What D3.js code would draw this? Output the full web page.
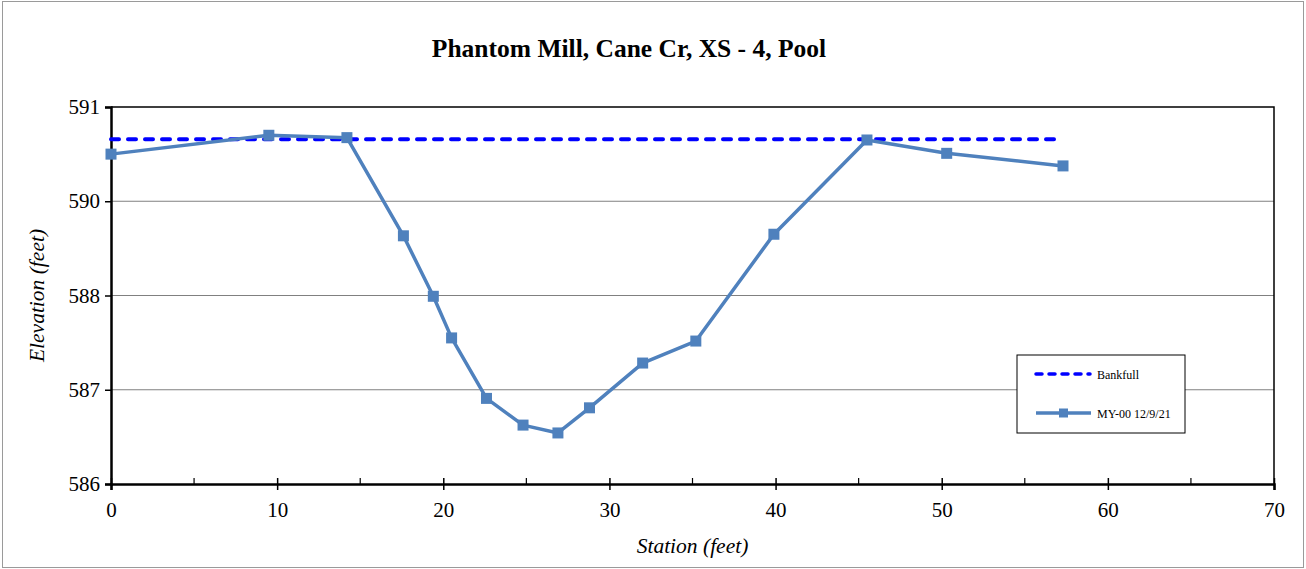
<!DOCTYPE html>
<html>
<head>
<meta charset="utf-8">
<script src="https://cdn.jsdelivr.net/npm/d3@7"></script>
<style>
  html, body { margin: 0; padding: 0; background: #fff; }
  svg { display: block; }
</style>
</head>
<body>
<svg id="chart" width="1306" height="569"></svg>
<script>
// Cross-section survey: station (ft) vs. elevation (ft)
const stations   = [0, 9.5, 14.2, 17.6, 19.4, 20.5, 22.6, 24.8, 26.9, 28.8, 32.0, 35.2, 39.9, 45.5, 50.3, 57.3];
const elevations = [590.20, 590.44, 590.41, 589.16, 588.39, 587.86, 587.09, 586.75, 586.65, 586.97, 587.54, 587.82, 589.18, 590.38, 590.21, 590.05];

// Bankfull elevation, drawn across the surveyed width
const bankfullStations  = [0, 57.1];
const bankfullElevation = 590.39;

// Axis ticks
const xTicks = [0, 10, 20, 30, 40, 50, 60, 70];
const xMinorTicks = [5, 15, 25, 35, 45, 55, 65];
const yTicks = [586, 587.2, 588.4, 589.6, 590.8];
const yTickLabels = ["586", "587", "588", "590", "591"];

const seriesNames = ["Bankfull", "MY-00 12/9/21"];
const titleText = "Phantom Mill, Cane Cr, XS - 4, Pool";

const svg = d3.select("#chart");
const W = 1306, H = 569;
const plot = { left: 111, right: 1274, top: 107, bottom: 484 };
const serif = "'Liberation Serif', 'Times New Roman', serif";

// Outer chart frame
svg.append("rect")
  .attr("x", 2.5).attr("y", 1.5).attr("width", W - 5).attr("height", H - 3)
  .attr("fill", "#fff").attr("stroke", "#9a9a9a").attr("stroke-width", 1);

const x = d3.scaleLinear().domain([0, 70]).range([plot.left, plot.right]);
const y = d3.scaleLinear().domain([586, 590.8]).range([plot.bottom, plot.top]);

// Horizontal gridlines
svg.append("g")
  .selectAll("line")
  .data(yTicks.slice(1, -1))
  .join("line")
  .attr("x1", plot.left).attr("x2", plot.right)
  .attr("y1", d => y(d)).attr("y2", d => y(d))
  .attr("stroke", "#808080").attr("stroke-width", 1.2);

// Plot frame: top and right edges
svg.append("path")
  .attr("d", `M${plot.left},${plot.top}H${plot.right}V${plot.bottom}`)
  .attr("fill", "none").attr("stroke", "#000").attr("stroke-width", 1.5);

// Y axis
const yAxis = d3.axisLeft(y)
  .tickValues(yTicks)
  .tickFormat((d, i) => yTickLabels[i])
  .tickSize(6).tickPadding(5);
const gy = svg.append("g").attr("transform", `translate(${plot.left},0)`).call(yAxis);
gy.select(".domain").attr("stroke", "#000").attr("stroke-width", 2.5);
gy.selectAll(".tick line").attr("stroke", "#000").attr("stroke-width", 1.5);
gy.selectAll(".tick text").attr("font-family", serif).attr("font-size", 21).attr("fill", "#000");

// X axis (major ticks cross the axis line, minor ticks point inward)
const xAxis = d3.axisBottom(x)
  .tickValues(xTicks)
  .tickFormat(d3.format("d"))
  .tickSize(6).tickPadding(12);
const gx = svg.append("g").attr("transform", `translate(0,${plot.bottom})`).call(xAxis);
gx.select(".domain").attr("stroke", "#000").attr("stroke-width", 2.5);
gx.selectAll(".tick line").attr("y1", -6).attr("stroke", "#000").attr("stroke-width", 1.5);
gx.selectAll(".tick text").attr("font-family", serif).attr("font-size", 21).attr("fill", "#000");

svg.append("g")
  .selectAll("line")
  .data(xMinorTicks)
  .join("line")
  .attr("x1", d => x(d)).attr("x2", d => x(d))
  .attr("y1", plot.bottom - 6).attr("y2", plot.bottom)
  .attr("stroke", "#000").attr("stroke-width", 1.2);

// Bankfull line
svg.append("line")
  .attr("x1", x(bankfullStations[0])).attr("x2", x(bankfullStations[1]))
  .attr("y1", y(bankfullElevation)).attr("y2", y(bankfullElevation))
  .attr("stroke", "#0000ff").attr("stroke-width", 4)
  .attr("stroke-dasharray", "8,9").attr("stroke-linecap", "round");

// Surveyed profile
const pts = stations.map((s, i) => [s, elevations[i]]);
const lineGen = d3.line().x(d => x(d[0])).y(d => y(d[1]));
svg.append("path")
  .datum(pts)
  .attr("d", lineGen)
  .attr("fill", "none").attr("stroke", "#4f81bd").attr("stroke-width", 3.5)
  .attr("stroke-linejoin", "round");

const m = 11;
svg.append("g")
  .selectAll("rect")
  .data(pts)
  .join("rect")
  .attr("x", d => x(d[0]) - m / 2).attr("y", d => y(d[1]) - m / 2)
  .attr("width", m).attr("height", m)
  .attr("fill", "#4f81bd");

// Title and axis titles
svg.append("text")
  .attr("x", 629).attr("y", 57).attr("text-anchor", "middle")
  .attr("font-family", serif).attr("font-weight", "bold").attr("font-size", 25.5)
  .text(titleText);

svg.append("text")
  .attr("x", (plot.left + plot.right) / 2).attr("y", 553).attr("text-anchor", "middle")
  .attr("font-family", serif).attr("font-style", "italic").attr("font-size", 21.5)
  .text("Station (feet)");

svg.append("text")
  .attr("transform", `translate(44,${(plot.top + plot.bottom) / 2}) rotate(-90)`)
  .attr("text-anchor", "middle")
  .attr("font-family", serif).attr("font-style", "italic").attr("font-size", 21.5)
  .text("Elevation (feet)");

// Legend
const lg = svg.append("g").attr("transform", "translate(1017,355)");
lg.append("rect")
  .attr("width", 168).attr("height", 78)
  .attr("fill", "#fff").attr("stroke", "#000").attr("stroke-width", 1);

lg.append("line")
  .attr("x1", 19).attr("x2", 73).attr("y1", 19).attr("y2", 19)
  .attr("stroke", "#0000ff").attr("stroke-width", 3.5)
  .attr("stroke-dasharray", "6,7").attr("stroke-linecap", "round");
lg.append("line")
  .attr("x1", 19).attr("x2", 74).attr("y1", 58).attr("y2", 58)
  .attr("stroke", "#4f81bd").attr("stroke-width", 3.5);
lg.append("rect")
  .attr("x", 42).attr("y", 53.5).attr("width", 9).attr("height", 9)
  .attr("fill", "#4f81bd");

lg.selectAll("text.lbl")
  .data(seriesNames)
  .join("text")
  .attr("class", "lbl")
  .attr("x", 80).attr("y", (d, i) => i === 0 ? 24 : 63)
  .attr("font-family", serif).attr("font-size", 12)
  .text(d => d);
</script>
</body>
</html>
